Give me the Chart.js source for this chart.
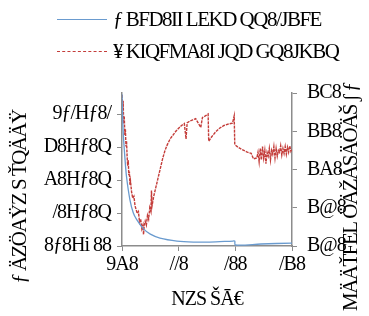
<!DOCTYPE html>
<html>
<head>
<meta charset="utf-8">
<script src="https://cdn.jsdelivr.net/npm/chart.js@4.4.0/dist/chart.umd.min.js"></script>
<style>
  html, body { margin: 0; padding: 0; background: #fff; }
  #wrap { position: relative; width: 369px; height: 316px; }
  #leyenda { position: absolute; left: 57px; top: 3px; font-family: 'Liberation Serif', serif; font-size: 21px; letter-spacing: -1.5px; color: #000; }
  .fila { display: flex; align-items: center; height: 32px; white-space: nowrap; }
  .muestra { width: 50px; height: 0; margin-right: 6px; }
</style>
</head>
<body>
<div id="wrap">
  <canvas id="grafico" width="369" height="316"></canvas>
  <div id="leyenda"></div>
</div>
<script>
// --- datos ---
const nombreAzul = 'ƒ BFD8II LEKD QQ8/JBFE';
const nombreRojo = '¥ KIQFMA8I JQD GQ8JKBQ';

const ejeXValores = [0, 1, 2, 3];
const ejeXEtiquetas = ['9A8', '//8', '/88', '/B8'];
const ejeIzqValores = [0, 1, 2, 3, 4];
const ejeIzqEtiquetas = ['8ƒ8Hi 88', '/8Hƒ8Q', 'A8Hƒ8Q', 'D8Hƒ8Q', '9ƒ/Hƒ8/'];
const ejeDerValores = [0, 1, 2, 3, 4];
const ejeDerEtiquetas = ['B@8', 'B@8', 'BA8', 'BB8', 'BC8'];

const tituloX = 'NZS ŠĀ€';
const tituloIzq = 'ƒ ÄZÖAŸZ S ŤQÄÄŸ';
const tituloDer = 'MÄÄŤFEL ÖÄŽÁSÄÖÄŠ ʃ ƒ';

// serie azul (eje izquierdo)
const azulX = [0.00, 0.02, 0.05, 0.08, 0.14, 0.20, 0.26, 0.38, 0.50, 0.67, 0.97, 1.26, 1.55, 1.96, 1.99, 2.00, 2.45, 3.00];
const azulY = [4.60, 3.50, 2.70, 2.10, 1.40, 1.00, 0.80, 0.52, 0.36, 0.24, 0.15, 0.12, 0.12, 0.15, 0.15, 0.03, 0.06, 0.09];

// serie roja (eje derecho)
const rojoX = [0.00, 0.01, 0.02, 0.03, 0.04, 0.05, 0.06, 0.07, 0.08, 0.09, 0.10, 0.11, 0.12, 0.13, 0.14, 0.15, 0.17, 0.19, 0.21, 0.23,
  0.25, 0.27, 0.29, 0.31, 0.33, 0.35, 0.37, 0.38, 0.39, 0.41, 0.43, 0.45, 0.47, 0.49, 0.51, 0.52, 0.53, 0.56, 0.60, 0.64,
  0.68, 0.72, 0.76, 0.80, 0.85, 0.90, 0.95, 1.00, 1.05, 1.10, 1.13, 1.15, 1.20, 1.25, 1.30, 1.39, 1.42, 1.47, 1.52, 1.53,
  1.58, 1.65, 1.72, 1.80, 1.88, 1.95, 1.98, 1.99, 2.05, 2.12, 2.20, 2.28, 2.32, 2.38, 2.40, 2.42, 2.44, 2.46, 2.48, 2.50,
  2.52, 2.54, 2.56, 2.58, 2.60, 2.62, 2.64, 2.66, 2.68, 2.70, 2.72, 2.74, 2.76, 2.78, 2.80, 2.82, 2.84, 2.86, 2.88, 2.90,
  2.92, 2.94, 2.96, 2.98, 3.00];
const rojoY = [3.95, 3.55, 3.80, 3.20, 3.40, 2.90, 3.05, 2.60, 2.75, 2.35, 2.10, 2.25, 1.85, 1.95, 1.60, 1.70, 1.40, 1.25, 1.30, 1.05,
  0.95, 0.85, 0.90, 0.62, 0.70, 0.45, 0.55, 0.30, 0.50, 0.65, 0.55, 0.80, 0.70, 1.00, 0.90, 1.45, 1.05, 1.30, 1.55, 1.80,
  2.05, 2.30, 2.50, 2.65, 2.80, 2.90, 3.00, 3.08, 3.15, 3.20, 2.80, 3.22, 3.27, 3.30, 3.33, 3.10, 3.36, 3.40, 3.45, 2.74,
  2.85, 2.98, 3.08, 3.15, 3.19, 3.21, 3.40, 2.65, 2.58, 2.52, 2.46, 2.42, 2.28, 2.30, 2.45, 2.20, 2.55, 2.25, 2.60, 2.30,
  2.50, 2.15, 2.45, 2.35, 2.55, 2.25, 2.50, 2.40, 2.60, 2.30, 2.55, 2.35, 2.50, 2.45, 2.62, 2.38, 2.55, 2.42, 2.60, 2.40,
  2.58, 2.45, 2.62, 2.48, 2.55];

// --- estilos ---
const colorAzul = '#6a9bcf';
const colorRojo = '#c43d3a';
const colorEje = '#8c8c8c';
const fuente = "'Liberation Serif', serif";

// leyenda en HTML
const leyenda = document.getElementById('leyenda');
[[nombreAzul, '1.3px solid ' + colorAzul], [nombreRojo, '1px dashed ' + colorRojo]].forEach(([txt, borde]) => {
  const fila = document.createElement('div');
  fila.className = 'fila';
  const m = document.createElement('span');
  m.className = 'muestra';
  m.style.borderTop = borde;
  const t = document.createElement('span');
  t.textContent = txt;
  fila.appendChild(m);
  fila.appendChild(t);
  leyenda.appendChild(fila);
});

const puntos = (xs, ys) => xs.map((x, i) => ({ x: x, y: ys[i] }));

// letras más juntas, como en la imagen
const apretarTexto = {
  id: 'apretarTexto',
  beforeDraw(chart) { chart.ctx.letterSpacing = '-1px'; }
};

// títulos laterales, ambos girados hacia arriba como en la imagen
const titulosLaterales = {
  id: 'titulosLaterales',
  afterDraw(chart) {
    const c = chart.ctx;
    c.save();
    c.fillStyle = '#000';
    c.font = '21px ' + fuente;
    c.letterSpacing = '-1.5px';
    c.textAlign = 'center';
    c.textBaseline = 'middle';
    [[20, tituloIzq], [351, tituloDer]].forEach(([x, txt]) => {
      c.save();
      c.translate(x, 197);
      c.rotate(-Math.PI / 2);
      c.fillText(txt, 0, 0);
      c.restore();
    });
    c.restore();
  }
};

Chart.defaults.font.family = fuente;
Chart.defaults.font.size = 20;
Chart.defaults.color = '#000';

new Chart(document.getElementById('grafico'), {
  type: 'line',
  data: {
    datasets: [
      {
        label: nombreAzul,
        data: puntos(azulX, azulY),
        yAxisID: 'yIzq',
        borderColor: colorAzul,
        borderWidth: 1.3,
        pointRadius: 0,
        tension: 0.3
      },
      {
        label: nombreRojo,
        data: puntos(rojoX, rojoY),
        yAxisID: 'yDer',
        borderColor: colorRojo,
        borderWidth: 1.4,
        borderDash: [3, 1],
        pointRadius: 0,
        tension: 0
      }
    ]
  },
  options: {
    responsive: false,
    animation: false,
    layout: { padding: { top: 93, left: 0, right: 0, bottom: 0 } },
    plugins: { legend: { display: false }, tooltip: { enabled: false } },
    scales: {
      x: {
        type: 'linear',
        min: 0, max: 3,
        afterFit: s => { s.height = 70; },
        afterBuildTicks: s => { s.ticks = ejeXValores.map(v => ({ value: v })); },
        ticks: { padding: 2, callback: (v) => ejeXEtiquetas[ejeXValores.indexOf(v)] },
        grid: { drawOnChartArea: false, tickLength: 5, color: colorEje },
        border: { color: colorEje, width: 1.5 },
        title: { display: true, text: tituloX, padding: { top: 0 } }
      },
      yIzq: {
        position: 'left',
        min: 0, max: 4.64,
        afterFit: s => { s.width = 122; },
        afterBuildTicks: s => { s.ticks = ejeIzqValores.map(v => ({ value: v })); },
        ticks: { padding: 6, callback: (v) => ejeIzqEtiquetas[ejeIzqValores.indexOf(v)] },
        grid: { drawOnChartArea: false, tickLength: 5, color: colorEje },
        border: { color: colorEje, width: 1.5 }
      },
      yDer: {
        position: 'right',
        min: 0, max: 4,
        afterFit: s => { s.width = 77; },
        afterBuildTicks: s => { s.ticks = ejeDerValores.map(v => ({ value: v })); },
        ticks: { padding: 10, callback: (v) => ejeDerEtiquetas[ejeDerValores.indexOf(v)] },
        grid: { drawOnChartArea: false, tickLength: 5, color: colorEje },
        border: { color: colorEje, width: 1.5 }
      }
    }
  },
  plugins: [apretarTexto, titulosLaterales]
});
</script>
</body>
</html>
